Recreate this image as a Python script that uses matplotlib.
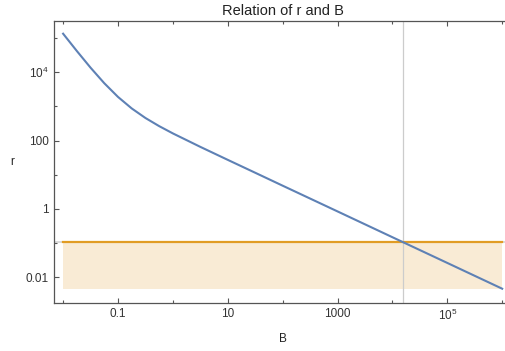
import numpy as np
import matplotlib
matplotlib.use("Agg")
import matplotlib.pyplot as plt
from matplotlib.ticker import FixedLocator

plt.rcParams['font.family'] = ['Liberation Sans', 'DejaVu Sans']
plt.rcParams['mathtext.fontset'] = 'custom'
plt.rcParams['mathtext.rm'] = 'Liberation Sans'

# curve (estimated every quarter decade where it bends)
B = [0.01, 0.0178, 0.0316, 0.0562, 0.1, 0.178, 0.316, 0.562, 1.0,
     3.16, 10, 31.6, 100, 1000, 1e4, 1e5, 1e6]
r = [1.355e5, 4.21e4, 1.37e4, 4800, 1901, 873, 459, 265, 162,
     65.4, 27.2, 11.4, 4.76, 0.838, 0.147, 0.0259, 0.00455]

r_limit = 0.104          # horizontal line
B_cross = 1.58e4         # where curve meets the line
band_low = 0.0045        # bottom of shaded band
B_span = [0.01, 1.0e6]

xtick_major = [0.1, 10, 1000, 1e5]
xtick_major_labels = ['0.1', '10', '1000', r'$10^5$']
xtick_minor = [0.01, 1, 100, 1e4, 1e6]
ytick_major = [0.01, 1, 100, 1e4]
ytick_major_labels = ['0.01', '1', '100', r'$10^4$']
ytick_minor = [0.001, 0.1, 10, 1000, 1e5]

blue = '#5E81B5'
orange = '#E19C24'
frame = '#555555'

fig = plt.figure(figsize=(5.05, 3.51), dpi=100)
ax = fig.add_axes([54 / 505, 1 - 302.7 / 351, 457.3 / 505, 282.0 / 351])
ax.set_xscale('log')
ax.set_yscale('log')
ax.set_xlim(10 ** -2.166, 10 ** 6.166)
ax.set_ylim(10 ** -2.752, 10 ** 5.513)

# grid lines at the crossing point
ax.axvline(B_cross, color='#cccccc', lw=0.9, zorder=1)
ax.axhline(r_limit, color='#d4d4d4', lw=1.2, zorder=1)

ax.fill_between(B_span, band_low, r_limit, color='#F9EBD5', lw=0, zorder=0.5)
ax.plot(B_span, [r_limit, r_limit], color=orange, lw=1.6, zorder=2)
ax.plot(B, r, color=blue, lw=1.5, zorder=3)

ax.xaxis.set_major_locator(FixedLocator(xtick_major))
ax.set_xticklabels(xtick_major_labels)
ax.xaxis.set_minor_locator(FixedLocator(xtick_minor))
ax.yaxis.set_major_locator(FixedLocator(ytick_major))
ax.set_yticklabels(ytick_major_labels)
ax.yaxis.set_minor_locator(FixedLocator(ytick_minor))
ax.xaxis.set_minor_formatter(plt.NullFormatter())
ax.yaxis.set_minor_formatter(plt.NullFormatter())

ax.tick_params(which='both', direction='in', top=True, right=True,
               color=frame, width=0.8, labelsize=8.5, labelcolor='#333333')
ax.tick_params(which='major', length=3.5, pad=4)
ax.tick_params(which='minor', length=2)
for s in ax.spines.values():
    s.set_color(frame)
    s.set_linewidth(0.9)

ax.set_title('Relation of r and B', fontsize=10.5, color='#222222', pad=4)
ax.set_xlabel('B', fontsize=8.5, color='#222222', labelpad=7)
ax.set_ylabel('r', fontsize=8.5, color='#222222', rotation=0,
              ha='center', va='center')
ax.yaxis.set_label_coords(-0.091, 0.5)

fig.savefig('out.png', dpi=100)
